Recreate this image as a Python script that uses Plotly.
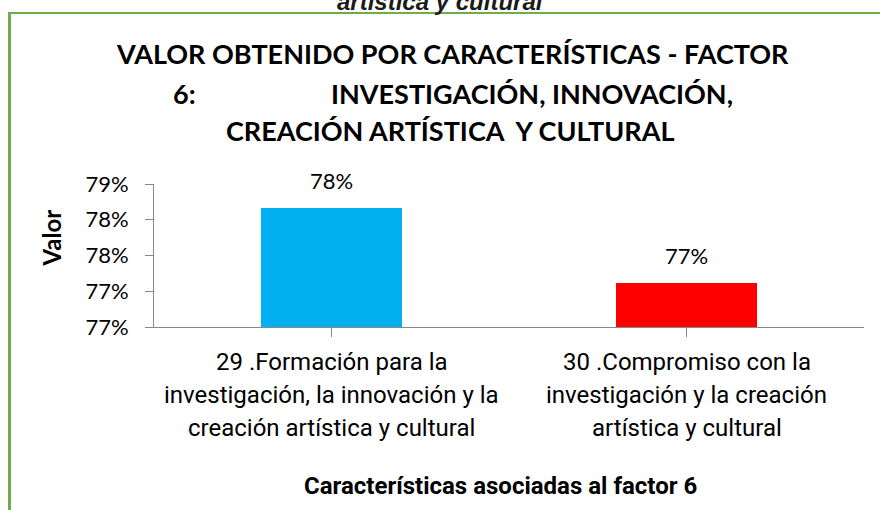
import plotly.graph_objects as go

# Datos del gráfico
categorias = [
    "29 .Formación para la<br>investigación, la innovación y la<br>creación artística y cultural",
    "30 .Compromiso con la<br>investigación y la creación<br>artística y cultural",
]
valores = [0.7817, 0.7712]
colores = ["#00B0F0", "#FF0000"]
ticks_y = [0.765, 0.770, 0.775, 0.780, 0.785]
etiquetas_y = ["77%", "77%", "78%", "78%", "79%"]

titulo_l1 = "VALOR OBTENIDO POR CARACTERÍSTICAS - FACTOR"
titulo_l2a = "6:"
titulo_l2b = "INVESTIGACIÓN, INNOVACIÓN,"
titulo_l3 = "CREACIÓN ARTÍSTICA  Y CULTURAL"
titulo_eje_x = "Características asociadas al factor 6"
titulo_eje_y = "Valor"
texto_superior = "artística y cultural"

# Geometría de la página
W, H = 880, 510
ML, MR, MT, MB = 154, 16, 184, 183
FONT = "Lato"
FONT_TXT = "Roboto"


def fx(px):
    return (px - ML) / (W - ML - MR)


def fy(py):
    return (H - MB - py) / (H - MT - MB)


fig = go.Figure(
    go.Bar(
        x=list(range(len(categorias))),
        y=valores,
        marker=dict(color=colores, line=dict(width=0)),
        width=0.395,
        hoverinfo="skip",
    )
)

anns = []


def texto(t, x, y, size, bold=False, xref="paper", yref="paper", **kw):
    anns.append(dict(
        text=t, x=x, y=y, xref=xref, yref=yref, showarrow=False,
        xanchor=kw.pop("xanchor", "center"), yanchor=kw.pop("yanchor", "middle"),
        font=dict(family=kw.pop("family", FONT), size=size, color=kw.pop("color", "black"),
                  weight="bold" if bold else "normal", style=kw.pop("style", "normal")),
        **kw,
    ))


# Título
texto(titulo_l1, fx(452), fy(53), 27, bold=True)
texto(titulo_l2a, fx(184), fy(93.5), 27, bold=True)
texto(titulo_l2b, fx(532), fy(93.5), 27, bold=True)
texto(titulo_l3, fx(450), fy(130.5), 27, bold=True)

# Texto cortado en el borde superior
texto(texto_superior, fx(440), fy(2), 24, bold=True, family="Liberation Sans",
      style="italic", color="#1a1a1a")

# Etiquetas de categoría (una línea por anotación)
centros_lineas = [362, 395, 428]
for i, cat in enumerate(categorias):
    for j, linea in enumerate(cat.split("<br>")):
        texto(linea, i, fy(centros_lineas[j]), 24, xref="x", family=FONT_TXT)

# Etiquetas de datos
for i, v in enumerate(valores):
    texto(f"{v:.0%}", i, v, 22, xref="x", yref="y", yshift=27)

# Títulos de ejes
texto(titulo_eje_x, fx(500), fy(485.5), 24, bold=True, family=FONT_TXT)
texto(titulo_eje_y, fx(51), fy(238.5), 24, bold=True, textangle=-90)

# Borde verde del área del gráfico
borde = "#70AD47"
shapes = [
    dict(type="line", xref="paper", yref="paper", x0=fx(9.5), x1=fx(9.5), y0=fy(12), y1=fy(520),
         line=dict(color=borde, width=3)),
    dict(type="line", xref="paper", yref="paper", x0=fx(8), x1=fx(890), y0=fy(13), y1=fy(13),
         line=dict(color=borde, width=2)),
]

fig.update_layout(
    width=W, height=H,
    margin=dict(l=ML, r=MR, t=MT, b=MB, pad=0),
    paper_bgcolor="white", plot_bgcolor="white",
    showlegend=False,
    annotations=anns,
    shapes=shapes,
    bargap=0,
    xaxis=dict(
        range=[-0.5, 1.5], tickmode="array", tickvals=[0, 1], showticklabels=False,
        tickson="boundaries", ticks="outside", ticklen=9, tickcolor="#898989",
        showline=True, linecolor="#898989", linewidth=1, showgrid=False, zeroline=False,
    ),
    yaxis=dict(
        range=[ticks_y[0], ticks_y[-1]], tickmode="array", tickvals=ticks_y, ticktext=etiquetas_y,
        ticks="outside", ticklen=8, tickcolor="#898989",
        showline=True, linecolor="#898989", linewidth=1, showgrid=False, zeroline=False,
        tickfont=dict(family=FONT, size=22, color="black"), ticklabelstandoff=12,
    ),
)

fig.write_html("out.html")
